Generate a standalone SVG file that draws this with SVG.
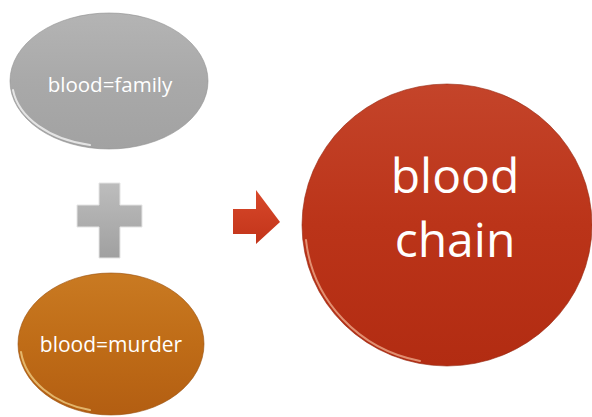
<svg xmlns="http://www.w3.org/2000/svg" width="592" height="417" viewBox="0 0 592 417">
  <defs>
    <linearGradient id="gGray" x1="0" y1="0" x2="0" y2="1">
      <stop offset="0" stop-color="#b4b4b4"/>
      <stop offset="0.5" stop-color="#a9a9a9"/>
      <stop offset="1" stop-color="#a2a2a2"/>
    </linearGradient>
    <linearGradient id="gOrange" x1="0" y1="0" x2="0" y2="1">
      <stop offset="0" stop-color="#c97a22"/>
      <stop offset="0.5" stop-color="#bf6c17"/>
      <stop offset="1" stop-color="#b35e12"/>
    </linearGradient>
    <linearGradient id="gRed" x1="0" y1="0" x2="0" y2="1">
      <stop offset="0" stop-color="#c4442a"/>
      <stop offset="0.5" stop-color="#bb3419"/>
      <stop offset="1" stop-color="#b22c12"/>
    </linearGradient>
    <linearGradient id="gPlus" x1="0" y1="0" x2="0" y2="1">
      <stop offset="0" stop-color="#bdbdbd"/>
      <stop offset="1" stop-color="#a0a0a0"/>
    </linearGradient>
    <linearGradient id="gArrow" x1="0" y1="0" x2="0" y2="1">
      <stop offset="0" stop-color="#d8482a"/>
      <stop offset="1" stop-color="#c2341a"/>
    </linearGradient>
  </defs>
  <style>
    .lbl { font-family: "Open Sans", "Noto Sans", sans-serif; fill: #ffffff; text-anchor: middle; }
    .edge { fill: none; stroke-width: 1; stroke-opacity: 0.6; }
    .shine { fill: none; stroke-width: 2; stroke-linecap: round; stroke-opacity: 0.7; }
  </style>

  <rect width="592" height="417" fill="#ffffff"/>

  <g id="node-family">
    <ellipse cx="109" cy="81" rx="99" ry="68" fill="url(#gGray)"/>
    <ellipse class="edge" cx="109" cy="81" rx="99" ry="68" stroke="#8f8f8f"/>
    <!-- soft highlight along the lower-left edge -->
    <path class="shine" d="M13,90 A96,65 0 0 0 90,145" stroke="#ffffff"/>
    <text class="lbl" x="110" y="92" font-size="20.5">blood=family</text>
  </g>

  <g id="node-murder">
    <ellipse cx="111" cy="344" rx="93" ry="71" fill="url(#gOrange)"/>
    <ellipse class="edge" cx="111" cy="344" rx="93" ry="71" stroke="#9a500e"/>
    <path class="shine" d="M21,352 A90,68 0 0 0 90,410" stroke="#f5d890"/>
    <text class="lbl" x="111" y="352" font-size="21">blood=murder</text>
  </g>

  <g id="node-chain">
    <ellipse cx="447" cy="225" rx="145" ry="141" fill="url(#gRed)"/>
    <ellipse class="edge" cx="447" cy="225" rx="145" ry="141" stroke="#96260f"/>
    <path class="shine" d="M306,240 A142,138 0 0 0 420,361" stroke="#f4b898"/>
    <text class="lbl" x="455" y="193" font-size="48">blood</text>
    <text class="lbl" x="455" y="257" font-size="48">chain</text>
  </g>

  <g id="connectors">
    <path id="plus" d="M99,183 H120 V205 H142 V227 H120 V258 H99 V227 H77 V205 H99 Z" fill="url(#gPlus)" stroke="#e4e4e4" stroke-width="1"/>
    <path id="arrow" d="M233,209 H256 V190 L280,222 L256,244 V234 H233 Z" fill="url(#gArrow)"/>
  </g>
</svg>
